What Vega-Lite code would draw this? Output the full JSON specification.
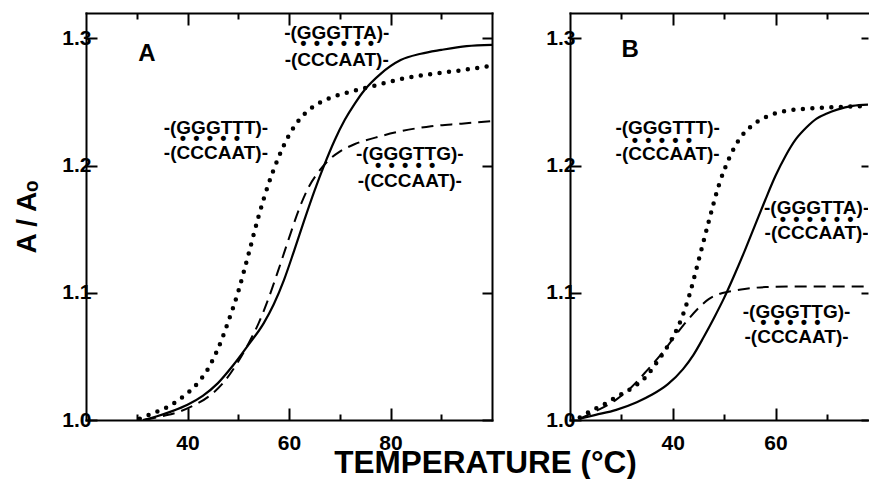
{
  "$schema": "https://vega.github.io/schema/vega-lite/v6.json",
  "padding": {"left": 13, "top": 12, "right": 0, "bottom": 0},
  "autosize": {"type": "pad"},
  "bounds": "flush",
  "spacing": 78,
  "datasets": {
    "curvesA": [
      {"s": "GGGTTA", "t": 31.2, "a": 1.000}, {"s": "GGGTTA", "t": 34, "a": 1.003}, {"s": "GGGTTA", "t": 37, "a": 1.007},
      {"s": "GGGTTA", "t": 40, "a": 1.012}, {"s": "GGGTTA", "t": 43, "a": 1.019}, {"s": "GGGTTA", "t": 46, "a": 1.029},
      {"s": "GGGTTA", "t": 49, "a": 1.043}, {"s": "GGGTTA", "t": 52, "a": 1.059}, {"s": "GGGTTA", "t": 55, "a": 1.076},
      {"s": "GGGTTA", "t": 57, "a": 1.091}, {"s": "GGGTTA", "t": 59, "a": 1.110}, {"s": "GGGTTA", "t": 61, "a": 1.133},
      {"s": "GGGTTA", "t": 63, "a": 1.157}, {"s": "GGGTTA", "t": 65, "a": 1.180}, {"s": "GGGTTA", "t": 67, "a": 1.201},
      {"s": "GGGTTA", "t": 69, "a": 1.220}, {"s": "GGGTTA", "t": 71, "a": 1.236}, {"s": "GGGTTA", "t": 73, "a": 1.249},
      {"s": "GGGTTA", "t": 75, "a": 1.260}, {"s": "GGGTTA", "t": 78, "a": 1.272}, {"s": "GGGTTA", "t": 82, "a": 1.283},
      {"s": "GGGTTA", "t": 86, "a": 1.288}, {"s": "GGGTTA", "t": 90, "a": 1.291}, {"s": "GGGTTA", "t": 95, "a": 1.294},
      {"s": "GGGTTA", "t": 100, "a": 1.295},
      {"s": "GGGTTG", "t": 31.5, "a": 1.000}, {"s": "GGGTTG", "t": 35, "a": 1.003}, {"s": "GGGTTG", "t": 38, "a": 1.006},
      {"s": "GGGTTG", "t": 41, "a": 1.011}, {"s": "GGGTTG", "t": 44, "a": 1.018}, {"s": "GGGTTG", "t": 47, "a": 1.029},
      {"s": "GGGTTG", "t": 50, "a": 1.046}, {"s": "GGGTTG", "t": 52, "a": 1.060}, {"s": "GGGTTG", "t": 54, "a": 1.076},
      {"s": "GGGTTG", "t": 56, "a": 1.096}, {"s": "GGGTTG", "t": 58, "a": 1.119}, {"s": "GGGTTG", "t": 60, "a": 1.143},
      {"s": "GGGTTG", "t": 62, "a": 1.166}, {"s": "GGGTTG", "t": 64, "a": 1.184}, {"s": "GGGTTG", "t": 66, "a": 1.196},
      {"s": "GGGTTG", "t": 68, "a": 1.205}, {"s": "GGGTTG", "t": 70, "a": 1.211}, {"s": "GGGTTG", "t": 73, "a": 1.217},
      {"s": "GGGTTG", "t": 77, "a": 1.222}, {"s": "GGGTTG", "t": 82, "a": 1.227}, {"s": "GGGTTG", "t": 88, "a": 1.231},
      {"s": "GGGTTG", "t": 94, "a": 1.233}, {"s": "GGGTTG", "t": 100, "a": 1.235},
      {"s": "GGGTTT", "t": 30.6, "a": 1.001}, {"s": "GGGTTT", "t": 33, "a": 1.005}, {"s": "GGGTTT", "t": 36, "a": 1.010},
      {"s": "GGGTTT", "t": 39, "a": 1.018}, {"s": "GGGTTT", "t": 42, "a": 1.029}, {"s": "GGGTTT", "t": 44, "a": 1.040},
      {"s": "GGGTTT", "t": 46, "a": 1.056}, {"s": "GGGTTT", "t": 48, "a": 1.077}, {"s": "GGGTTT", "t": 50, "a": 1.101},
      {"s": "GGGTTT", "t": 52, "a": 1.130}, {"s": "GGGTTT", "t": 54, "a": 1.160}, {"s": "GGGTTT", "t": 56, "a": 1.186},
      {"s": "GGGTTT", "t": 58, "a": 1.207}, {"s": "GGGTTT", "t": 60, "a": 1.224}, {"s": "GGGTTT", "t": 62, "a": 1.236},
      {"s": "GGGTTT", "t": 65, "a": 1.247}, {"s": "GGGTTT", "t": 68, "a": 1.253}, {"s": "GGGTTT", "t": 72, "a": 1.258},
      {"s": "GGGTTT", "t": 76, "a": 1.262}, {"s": "GGGTTT", "t": 82, "a": 1.268}, {"s": "GGGTTT", "t": 88, "a": 1.272},
      {"s": "GGGTTT", "t": 94, "a": 1.275}, {"s": "GGGTTT", "t": 99, "a": 1.278}
    ],
    "curvesB": [
      {"s": "GGGTTA", "t": 21.9, "a": 1.001}, {"s": "GGGTTA", "t": 25, "a": 1.004}, {"s": "GGGTTA", "t": 29, "a": 1.008},
      {"s": "GGGTTA", "t": 33, "a": 1.014}, {"s": "GGGTTA", "t": 36, "a": 1.020}, {"s": "GGGTTA", "t": 39, "a": 1.028},
      {"s": "GGGTTA", "t": 42, "a": 1.040}, {"s": "GGGTTA", "t": 44, "a": 1.051}, {"s": "GGGTTA", "t": 46, "a": 1.065},
      {"s": "GGGTTA", "t": 48, "a": 1.080}, {"s": "GGGTTA", "t": 50, "a": 1.096}, {"s": "GGGTTA", "t": 52, "a": 1.114},
      {"s": "GGGTTA", "t": 54, "a": 1.133}, {"s": "GGGTTA", "t": 56, "a": 1.153}, {"s": "GGGTTA", "t": 58, "a": 1.173},
      {"s": "GGGTTA", "t": 60, "a": 1.192}, {"s": "GGGTTA", "t": 62, "a": 1.208}, {"s": "GGGTTA", "t": 64, "a": 1.221},
      {"s": "GGGTTA", "t": 66, "a": 1.230}, {"s": "GGGTTA", "t": 68, "a": 1.237}, {"s": "GGGTTA", "t": 70, "a": 1.241},
      {"s": "GGGTTA", "t": 72, "a": 1.244}, {"s": "GGGTTA", "t": 75, "a": 1.247}, {"s": "GGGTTA", "t": 78, "a": 1.248},
      {"s": "GGGTTG", "t": 21.9, "a": 1.001}, {"s": "GGGTTG", "t": 25, "a": 1.007}, {"s": "GGGTTG", "t": 29, "a": 1.016},
      {"s": "GGGTTG", "t": 32, "a": 1.026}, {"s": "GGGTTG", "t": 35, "a": 1.039}, {"s": "GGGTTG", "t": 38, "a": 1.053},
      {"s": "GGGTTG", "t": 41, "a": 1.069}, {"s": "GGGTTG", "t": 43, "a": 1.079}, {"s": "GGGTTG", "t": 45, "a": 1.088},
      {"s": "GGGTTG", "t": 47, "a": 1.095}, {"s": "GGGTTG", "t": 49, "a": 1.099}, {"s": "GGGTTG", "t": 51, "a": 1.101},
      {"s": "GGGTTG", "t": 54, "a": 1.103}, {"s": "GGGTTG", "t": 58, "a": 1.1045}, {"s": "GGGTTG", "t": 65, "a": 1.105},
      {"s": "GGGTTG", "t": 72, "a": 1.105}, {"s": "GGGTTG", "t": 78, "a": 1.105},
      {"s": "GGGTTT", "t": 21.9, "a": 1.002}, {"s": "GGGTTT", "t": 24, "a": 1.007}, {"s": "GGGTTT", "t": 26.5, "a": 1.012},
      {"s": "GGGTTT", "t": 29, "a": 1.018}, {"s": "GGGTTT", "t": 32, "a": 1.025}, {"s": "GGGTTT", "t": 35, "a": 1.035},
      {"s": "GGGTTT", "t": 37, "a": 1.046}, {"s": "GGGTTT", "t": 39, "a": 1.058}, {"s": "GGGTTT", "t": 41, "a": 1.073},
      {"s": "GGGTTT", "t": 43, "a": 1.095}, {"s": "GGGTTT", "t": 45, "a": 1.125}, {"s": "GGGTTT", "t": 47, "a": 1.156},
      {"s": "GGGTTT", "t": 49, "a": 1.185}, {"s": "GGGTTT", "t": 51, "a": 1.206}, {"s": "GGGTTT", "t": 53, "a": 1.221},
      {"s": "GGGTTT", "t": 55, "a": 1.230}, {"s": "GGGTTT", "t": 58, "a": 1.238}, {"s": "GGGTTT", "t": 62, "a": 1.243},
      {"s": "GGGTTT", "t": 67, "a": 1.245}, {"s": "GGGTTT", "t": 72, "a": 1.246}, {"s": "GGGTTT", "t": 78, "a": 1.247}
    ],
    "labelsA": [
      {"kind": "letter", "txt": "A", "t": 32.0, "a": 1.288},
      {"kind": "seq", "txt": "-(GGGTTA)-", "t": 69.4, "a": 1.304},
      {"kind": "dots", "txt": "•\u2009\u2009•\u2009\u2009•\u2009\u2009•\u2009\u2009•\u2009\u2009•", "t": 69.5, "a": 1.2954},
      {"kind": "seq", "txt": "-(CCCAAT)-", "t": 69.4, "a": 1.2828},
      {"kind": "seq", "txt": "-(GGGTTT)-", "t": 45.6, "a": 1.2294},
      {"kind": "dots", "txt": "•\u2009\u2009•\u2009\u2009•\u2009\u2009•\u2009\u2009•", "t": 44.4, "a": 1.2207},
      {"kind": "seq", "txt": "-(CCCAAT)-", "t": 45.6, "a": 1.2097},
      {"kind": "seq", "txt": "-(GGGTTG)-", "t": 83.8, "a": 1.2090},
      {"kind": "dots", "txt": "•\u2009\u2009•\u2009\u2009•\u2009\u2009•\u2009\u2009•", "t": 82.9, "a": 1.1995},
      {"kind": "seq", "txt": "-(CCCAAT)-", "t": 83.8, "a": 1.1877}
    ],
    "labelsB": [
      {"kind": "letter", "txt": "B", "t": 31.7, "a": 1.2907},
      {"kind": "seq", "txt": "-(GGGTTT)-", "t": 39.0, "a": 1.2294},
      {"kind": "dots", "txt": "•\u2009\u2009•\u2009\u2009•\u2009\u2009•\u2009\u2009•", "t": 37.9, "a": 1.2192},
      {"kind": "seq", "txt": "-(CCCAAT)-", "t": 39.0, "a": 1.2090},
      {"kind": "seq", "txt": "-(GGGTTA)-", "t": 68.0, "a": 1.1665},
      {"kind": "dots", "txt": "•\u2009\u2009•\u2009\u2009•\u2009\u2009•\u2009\u2009•\u2009\u2009•", "t": 68.0, "a": 1.1571},
      {"kind": "seq", "txt": "-(CCCAAT)-", "t": 68.0, "a": 1.1469},
      {"kind": "seq", "txt": "-(GGGTTG)-", "t": 64.1, "a": 1.0848},
      {"kind": "dots", "txt": "•\u2009\u2009•\u2009\u2009•\u2009\u2009•\u2009\u2009•", "t": 62.9, "a": 1.0762},
      {"kind": "seq", "txt": "-(CCCAAT)-", "t": 64.1, "a": 1.0652}
    ]
  },
  "hconcat": [
    {
      "width": 406,
      "height": 407,
      "layer": [
        {
          "data": {"name": "curvesA"},
          "transform": [{"filter": "datum.s === 'GGGTTA'"}],
          "mark": {"type": "line", "interpolate": "monotone", "color": "black", "strokeWidth": 2.2},
          "encoding": {
            "x": {"field": "t", "type": "quantitative", "scale": {"domain": [20, 100], "nice": false, "zero": false},
              "axis": {"orient": "bottom", "values": [30, 40, 50, 60, 70, 80, 90],
                "tickSize": {"condition": {"test": "datum.value % 20 === 0", "value": -12}, "value": -6},
                "labelExpr": "datum.value % 20 === 0 ? datum.label : ''", "labelPadding": 24,
                "title": "TEMPERATURE (°C)", "titleX": 399, "titleY": 43, "titleAlign": "center", "titleBaseline": "middle", "titleFontSize": 31.5}},
            "y": {"field": "a", "type": "quantitative", "scale": {"domain": [1, 1.32], "nice": false, "zero": false},
              "axis": {"orient": "left", "values": [1, 1.1, 1.2, 1.3], "format": ".1f", "tickSize": -11, "labelPadding": 6,
                "title": "A / Aₒ", "titleFontSize": 28, "titlePadding": 20}}
          }
        },
        {
          "data": {"name": "curvesA"},
          "transform": [{"filter": "datum.s === 'GGGTTG'"}],
          "mark": {"type": "line", "interpolate": "monotone", "color": "black", "strokeWidth": 2, "strokeDash": [12, 7]},
          "encoding": {
            "x": {"field": "t", "type": "quantitative",
              "axis": {"orient": "top", "values": [30, 40, 50, 60, 70, 80, 90],
                "tickSize": {"condition": {"test": "datum.value % 20 === 0", "value": -12}, "value": -6},
                "labels": false, "title": null}},
            "y": {"field": "a", "type": "quantitative",
              "axis": {"orient": "right", "values": [1, 1.1, 1.2, 1.3], "tickSize": -10, "labels": false, "title": null}}
          }
        },
        {
          "data": {"name": "curvesA"},
          "transform": [{"filter": "datum.s === 'GGGTTT'"}],
          "mark": {"type": "line", "interpolate": "monotone", "color": "black", "strokeWidth": 4.5, "strokeDash": [0, 9.5], "strokeCap": "round"},
          "encoding": {
            "x": {"field": "t", "type": "quantitative", "axis": null},
            "y": {"field": "a", "type": "quantitative", "axis": null}
          }
        },
        {
          "data": {"name": "labelsA"},
          "transform": [{"filter": "datum.kind === 'seq'"}],
          "mark": {"type": "text", "font": "Liberation Sans", "fontWeight": "bold", "fontSize": 19, "align": "center", "baseline": "middle", "color": "black"},
          "encoding": {
            "x": {"field": "t", "type": "quantitative", "axis": null},
            "y": {"field": "a", "type": "quantitative", "axis": null},
            "text": {"field": "txt"}
          }
        },
        {
          "data": {"name": "labelsA"},
          "transform": [{"filter": "datum.kind === 'dots'"}],
          "mark": {"type": "text", "font": "Liberation Sans", "fontWeight": "bold", "fontSize": 18, "align": "center", "baseline": "middle", "color": "black"},
          "encoding": {
            "x": {"field": "t", "type": "quantitative", "axis": null},
            "y": {"field": "a", "type": "quantitative", "axis": null},
            "text": {"field": "txt"}
          }
        },
        {
          "data": {"name": "labelsA"},
          "transform": [{"filter": "datum.kind === 'letter'"}],
          "mark": {"type": "text", "font": "Liberation Sans", "fontWeight": "bold", "fontSize": 24, "align": "center", "baseline": "middle", "color": "black"},
          "encoding": {
            "x": {"field": "t", "type": "quantitative", "axis": null},
            "y": {"field": "a", "type": "quantitative", "axis": null},
            "text": {"field": "txt"}
          }
        }
      ],
      "resolve": {"axis": {"x": "independent", "y": "independent"}}
    },
    {
      "width": 298,
      "height": 407,
      "layer": [
        {
          "data": {"name": "curvesB"},
          "transform": [{"filter": "datum.s === 'GGGTTA'"}],
          "mark": {"type": "line", "interpolate": "monotone", "color": "black", "strokeWidth": 2.2, "clip": true},
          "encoding": {
            "x": {"field": "t", "type": "quantitative", "scale": {"domain": [20, 78], "nice": false, "zero": false},
              "axis": {"orient": "bottom", "values": [30, 40, 50, 60, 70],
                "tickSize": {"condition": {"test": "datum.value % 20 === 0", "value": -12}, "value": -6},
                "labelExpr": "datum.value % 20 === 0 ? datum.label : ''", "labelPadding": 24, "title": null}},
            "y": {"field": "a", "type": "quantitative", "scale": {"domain": [1, 1.32], "nice": false, "zero": false},
              "axis": {"orient": "left", "values": [1, 1.1, 1.2, 1.3], "format": ".1f", "tickSize": -11, "labelPadding": 6, "title": null}}
          }
        },
        {
          "data": {"name": "curvesB"},
          "transform": [{"filter": "datum.s === 'GGGTTG'"}],
          "mark": {"type": "line", "interpolate": "monotone", "color": "black", "strokeWidth": 2, "strokeDash": [12, 7], "clip": true},
          "encoding": {
            "x": {"field": "t", "type": "quantitative",
              "axis": {"orient": "top", "values": [30, 40, 50, 60, 70],
                "tickSize": {"condition": {"test": "datum.value % 20 === 0", "value": -12}, "value": -6},
                "labels": false, "title": null}},
            "y": {"field": "a", "type": "quantitative",
              "axis": {"orient": "right", "values": [1, 1.1, 1.2, 1.3], "tickSize": -7, "labels": false, "title": null, "domain": false}}
          }
        },
        {
          "data": {"name": "curvesB"},
          "transform": [{"filter": "datum.s === 'GGGTTT'"}],
          "mark": {"type": "line", "interpolate": "monotone", "color": "black", "strokeWidth": 4.5, "strokeDash": [0, 9.5], "strokeCap": "round", "clip": true},
          "encoding": {
            "x": {"field": "t", "type": "quantitative", "axis": null},
            "y": {"field": "a", "type": "quantitative", "axis": null}
          }
        },
        {
          "data": {"name": "labelsB"},
          "transform": [{"filter": "datum.kind === 'seq'"}],
          "mark": {"type": "text", "font": "Liberation Sans", "fontWeight": "bold", "fontSize": 19, "align": "center", "baseline": "middle", "color": "black", "clip": true},
          "encoding": {
            "x": {"field": "t", "type": "quantitative", "axis": null},
            "y": {"field": "a", "type": "quantitative", "axis": null},
            "text": {"field": "txt"}
          }
        },
        {
          "data": {"name": "labelsB"},
          "transform": [{"filter": "datum.kind === 'dots'"}],
          "mark": {"type": "text", "font": "Liberation Sans", "fontWeight": "bold", "fontSize": 18, "align": "center", "baseline": "middle", "color": "black", "clip": true},
          "encoding": {
            "x": {"field": "t", "type": "quantitative", "axis": null},
            "y": {"field": "a", "type": "quantitative", "axis": null},
            "text": {"field": "txt"}
          }
        },
        {
          "data": {"name": "labelsB"},
          "transform": [{"filter": "datum.kind === 'letter'"}],
          "mark": {"type": "text", "font": "Liberation Sans", "fontWeight": "bold", "fontSize": 24, "align": "center", "baseline": "middle", "color": "black"},
          "encoding": {
            "x": {"field": "t", "type": "quantitative", "axis": null},
            "y": {"field": "a", "type": "quantitative", "axis": null},
            "text": {"field": "txt"}
          }
        }
      ],
      "resolve": {"axis": {"x": "independent", "y": "independent"}}
    }
  ],
  "config": {
    "view": {"stroke": null},
    "axis": {
      "grid": false,
      "domainColor": "black", "domainWidth": 2, "domainCap": "square",
      "tickColor": "black", "tickWidth": 2,
      "labelFont": "Liberation Sans", "labelFontWeight": "bold", "labelFontSize": 21, "labelColor": "black",
      "labelOverlap": false, "labelFlush": false,
      "titleFont": "Liberation Sans", "titleFontWeight": "bold", "titleColor": "black"
    }
  }
}
